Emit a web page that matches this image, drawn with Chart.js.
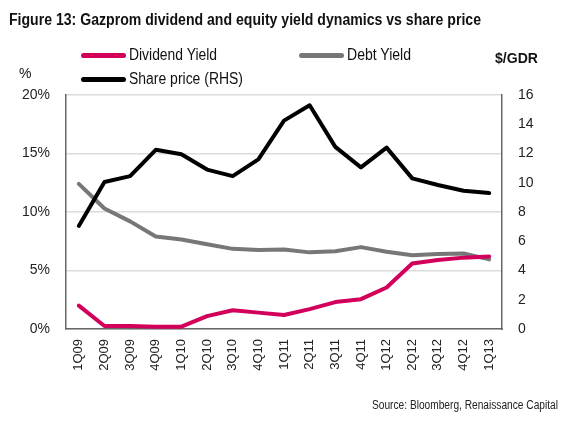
<!DOCTYPE html>
<html>
<head>
<meta charset="utf-8">
<script src="https://cdn.jsdelivr.net/npm/chart.js@4.4.0/dist/chart.umd.min.js"></script>
<style>
  body { margin: 0; background: #fff; }
  #wrap { position: relative; width: 564px; height: 431px; overflow: hidden; font-family: "Liberation Sans", Arial, sans-serif; color: #111; }
  #chart { position: absolute; left: 0; top: 0; }
  .txt { position: absolute; white-space: nowrap; line-height: 1; transform-origin: 0 50%; }
  .leg { position: absolute; height: 16px; }
  .leg .ln { position: absolute; left: 0; top: 6px; width: 45px; height: 5px; border-radius: 3px; }
  .leg .txt { left: 48px; top: 0; }
</style>
</head>
<body>
<div id="wrap">
  <canvas id="chart" width="564" height="431"></canvas>
  <div class="txt fit" data-w="472" style="left:9px; top:12px; font-size:16px; font-weight:bold;">Figure 13: Gazprom dividend and equity yield dynamics vs share price</div>
  <div class="leg" style="left:81px; top:47px;"><span class="ln" style="background:#d2005a"></span><span class="txt fit" data-w="88" style="font-size:16px;">Dividend Yield</span></div>
  <div class="leg" style="left:299px; top:47px;"><span class="ln" style="background:#777"></span><span class="txt fit" data-w="64" style="font-size:16px;">Debt Yield</span></div>
  <div class="leg" style="left:81px; top:71px;"><span class="ln" style="background:#000"></span><span class="txt fit" data-w="114" style="font-size:16px;">Share price (RHS)</span></div>
  <div class="txt" style="left:19px; top:66px; font-size:14px;">%</div>
  <div class="txt fit" data-w="43" style="left:495px; top:50px; font-size:15px; font-weight:bold;">$/GDR</div>
  <div class="txt fit" data-w="186" style="left:372px; top:399px; font-size:12px; color:#222;">Source: Bloomberg, Renaissance Capital</div>
</div>
<script>
// squeeze texts to the widths measured on the reference
document.querySelectorAll(".fit").forEach(function (el) {
  const w = el.getBoundingClientRect().width;
  el.style.transform = "scaleX(" + (Number(el.dataset.w) / w) + ")";
});

document.addEventListener("DOMContentLoaded", function () {
  // quarters on the x axis
  const quarters = ["1Q09", "2Q09", "3Q09", "4Q09", "1Q10", "2Q10", "3Q10", "4Q10",
    "1Q11", "2Q11", "3Q11", "4Q11", "1Q12", "2Q12", "3Q12", "4Q12", "1Q13"];

  // yields in %, left axis
  const dividendYield = [2.0, 0.26, 0.26, 0.2, 0.2, 1.1, 1.6, 1.4, 1.2, 1.7, 2.3, 2.55, 3.55, 5.6, 5.9, 6.1, 6.2];
  const debtYield = [12.4, 10.3, 9.2, 7.9, 7.65, 7.25, 6.85, 6.75, 6.8, 6.55, 6.65, 7.0, 6.6, 6.3, 6.4, 6.45, 5.95];

  // share price, $/GDR, right axis
  const sharePrice = [7.05, 10.05, 10.45, 12.25, 11.95, 10.9, 10.45, 11.6, 14.25, 15.3, 12.45, 11.05, 12.4, 10.3, 9.85, 9.45, 9.3];

  // left axis ticks 0..20 %, right axis ticks 0..16
  const leftTicks = { min: 0, max: 20, step: 5 };
  const rightTicks = { min: 0, max: 16, step: 2 };

  const tickFont = { family: "Liberation Sans", size: 14 };
  const axisColor = "#666";

  const lineStyle = (color) => ({
    borderColor: color,
    backgroundColor: color,
    borderWidth: 4,
    pointRadius: 0,
    tension: 0,
    fill: false,
    borderJoinStyle: "round",
    borderCapStyle: "round",
  });

  const chartData = {
    labels: quarters,
    datasets: [
      Object.assign({ label: "Share price (RHS)", data: sharePrice, yAxisID: "y2", order: 1 }, lineStyle("#000000")),
      Object.assign({ label: "Dividend Yield", data: dividendYield, yAxisID: "y", order: 2 }, lineStyle("#d2005a")),
      Object.assign({ label: "Debt Yield", data: debtYield, yAxisID: "y", order: 3 }, lineStyle("#777777")),
    ],
  };

  const config = {
    type: "line",
    data: chartData,
    options: {
      responsive: false,
      animation: false,
      devicePixelRatio: 1,
      layout: { padding: { top: 95, left: 0, right: 0, bottom: 0 } },
      plugins: { legend: { display: false }, tooltip: { enabled: false } },
      scales: {
        x: {
          type: "category",
          offset: true,
          grid: { display: false, drawTicks: false },
          border: { display: true, color: axisColor, width: 1.5 },
          ticks: { minRotation: 90, maxRotation: 90, padding: 10, color: "#222", font: { family: "Liberation Sans", size: 13 } },
          afterFit: (scale) => { scale.height = 102; },
        },
        y: {
          position: "left",
          min: leftTicks.min,
          max: leftTicks.max,
          ticks: { stepSize: leftTicks.step, padding: 16, color: "#222", font: tickFont, callback: (v) => v + "%" },
          grid: { color: "#dcdcdc", lineWidth: 1.5, drawTicks: false },
          border: { display: true, color: axisColor, width: 1.5 },
          afterFit: (scale) => { scale.width = 66; },
        },
        y2: {
          position: "right",
          min: rightTicks.min,
          max: rightTicks.max,
          ticks: { stepSize: rightTicks.step, padding: 16, color: "#222", font: tickFont },
          grid: { drawOnChartArea: false, drawTicks: false },
          border: { display: true, color: axisColor, width: 1.5 },
          afterFit: (scale) => { scale.width = 62; },
        },
      },
    },
  };

  const ctx = document.getElementById("chart").getContext("2d");
  new Chart(ctx, config);
});
</script>
</body>
</html>
